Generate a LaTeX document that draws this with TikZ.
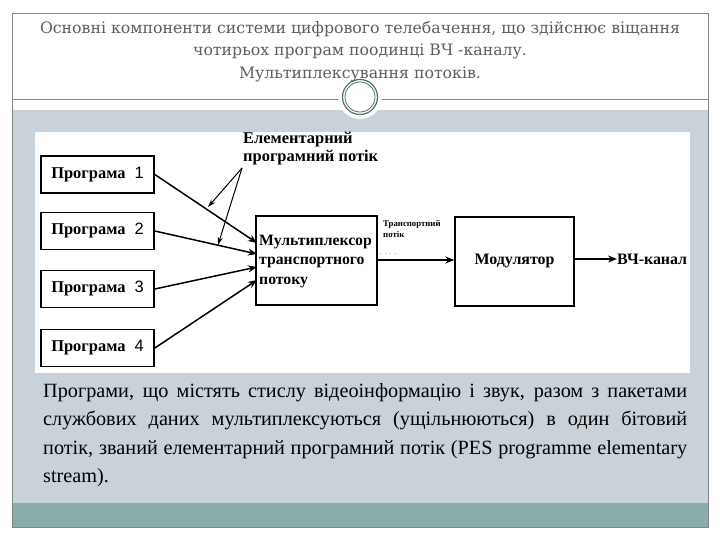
\documentclass[tikz,border=0pt]{standalone}
\usepackage{fontspec}
\setmainfont{Liberation Serif}
\newfontfamily\titlefont{DejaVu Serif}
\newfontfamily\digitfont{Liberation Sans}
\usetikzlibrary{arrows.meta}
\definecolor{bandgrey}{HTML}{C9D2D8}
\definecolor{bandteal}{HTML}{8AADAC}
\definecolor{framegrey}{HTML}{808585}
\definecolor{titlegrey}{HTML}{5A5F60}
\definecolor{ringteal}{HTML}{4F6F6F}
\tikzset{
  prog/.style={draw=black, line width=1.6pt, fill=white, minimum width=113bp, minimum height=37bp, inner sep=0pt,
     font=\fontsize{16.5}{16.5}\selectfont\bfseries},
  blockbox/.style={draw=black, line width=1.4pt, fill=white, inner sep=0pt},
  flow/.style={line width=1.5pt, -{Stealth[length=9bp,width=7bp]}},
  thinflow/.style={line width=1pt, -{Stealth[length=8bp,width=5bp]}},
}
\begin{document}
\begin{tikzpicture}[x=1bp,y=-1bp]
\useasboundingbox (0,0) rectangle (720,540);
% frame and bands
\fill[white] (0,0) rectangle (720,540);
\fill[bandgrey] (12,110) rectangle (708,503);
\fill[bandteal] (12,503) rectangle (708,527);
\draw[framegrey, line width=0.8pt] (12,13) rectangle (708,527);
\draw[framegrey, line width=0.8pt] (12,99) -- (708,99);
% circle ornament
\fill[white] (360,97) circle (22);
\draw[ringteal, line width=1.2pt] (360,97) circle (17.5);
\draw[ringteal, line width=0.8pt] (360,97) circle (15);
% title
\node[font=\titlefont\fontsize{15.8}{22.5}\selectfont, text=titlegrey, align=center, anchor=north, inner sep=0pt] (title) at (360,21)
  {Основні компоненти системи цифрового телебачення, що здійснює віщання\\чотирьох програм поодинці ВЧ -каналу.\\Мультиплексування потоків.};
% diagram picture area
\fill[white] (35,132) rectangle (690,373);
\node[prog] (p1) at (97.5,174.5) {Програма\hspace{9bp}{\digitfont\mdseries 1}};
\node[prog] (p2) at (97.5,231) {Програма\hspace{9bp}{\digitfont\mdseries 2}};
\node[prog] (p3) at (97.5,289) {Програма\hspace{9bp}{\digitfont\mdseries 3}};
\node[prog] (p4) at (97.5,348) {Програма\hspace{9bp}{\digitfont\mdseries 4}};
\node[blockbox, minimum width=121bp, minimum height=89bp] (mux) at (316.5,260.5) {};
\node[font=\fontsize{15.8}{19.5}\selectfont\bfseries, align=left, anchor=north west, inner sep=0pt] (muxtext) at (259,235)
  {Мультиплексор\\транспортного\\потоку};
\node[blockbox, minimum width=119bp, minimum height=89bp, font=\fontsize{16}{16}\selectfont\bfseries] (mod) at (514.5,261.5) {Модулятор};
\node[font=\fontsize{16}{16}\selectfont\bfseries, anchor=west, inner sep=0pt] (rf) at (617,259) {ВЧ-канал};
\node[font=\fontsize{8.8}{11.5}\selectfont\bfseries, align=left, anchor=north west, inner sep=0pt] (tslabel) at (383,220)
  {Транспортний\\потік};
\node[font=\fontsize{8}{8}\selectfont, text=gray, anchor=west, inner sep=0pt] (dots) at (380,254) {. . . .};
\node[font=\fontsize{16.5}{18}\selectfont\bfseries, align=left, anchor=north west, inner sep=0pt] (eslabel) at (243,132)
  {Елементарний\\програмний потік};
% connectors
\coordinate (m1) at (257,243);
\coordinate (m2) at (257,254);
\coordinate (m3) at (257,267);
\coordinate (m4) at (257,280);
\draw[flow] (p1.east) -- (m1);
\draw[flow] (p2.east) -- (m2);
\draw[flow] (p3.east) -- (m3);
\draw[flow] (p4.east) -- (m4);
\coordinate (es) at (242,168);
\coordinate (t1) at (208,207);
\coordinate (t2) at (218,245);
\draw[thinflow] (es) -- (t1);
\draw[thinflow] (es) -- (t2);
\draw[flow] (mux.east |- 0,260) -- (mod.west |- 0,260);
\draw[flow] (mod.east |- 0,259) -- (rf.west);
% body text
\node[anchor=north west, inner sep=0pt, text width=644bp, align=justify, font=\fontsize{20.3}{28.5}\selectfont] (body) at (43,383)
  {\hyphenpenalty=10000\exhyphenpenalty=10000\emergencystretch=20bp Програми, що містять стислу відеоінформацію і звук, разом з пакетами\linebreak службових даних мультиплексуються (ущільнюються) в один бітовий\linebreak потік, званий елементарний програмний потік (PES programme elementary\linebreak stream).};
\end{tikzpicture}
\end{document}
